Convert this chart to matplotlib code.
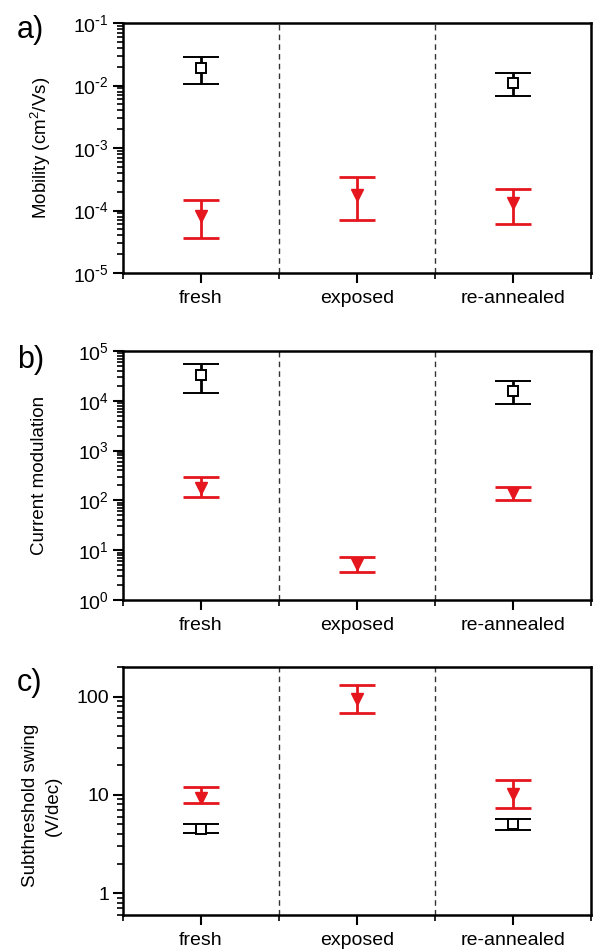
import numpy as np
from matplotlib import pyplot as plt
from matplotlib import ticker

plt.rcParams['font.family'] = ['Liberation Sans', 'DejaVu Sans']
plt.rcParams['mathtext.default'] = 'regular'

categories = ['fresh', 'exposed', 're-annealed']
nan = np.nan

# a) mobility (cm^2/Vs)
mob_black = [0.0193, nan, 0.0111]
mob_black_lo = [0.0105, nan, 0.0068]
mob_black_hi = [0.0289, nan, 0.0160]
mob_red = [8.2e-5, 1.77e-4, 1.3e-4]
mob_red_lo = [3.7e-5, 7.0e-5, 6.1e-5]
mob_red_hi = [1.47e-4, 3.4e-4, 2.18e-4]

# b) current modulation
cm_black = [33000, nan, 16000]
cm_black_lo = [14500, nan, 8750]
cm_black_hi = [54000, nan, 25000]
cm_red = [175, 5.2, 139]
cm_red_lo = [119, 3.7, 102]
cm_red_hi = [299, 7.2, 188]

# c) subthreshold swing (V/dec)
ss_black = [4.5, nan, 5.1]
ss_black_lo = [4.1, nan, 4.4]
ss_black_hi = [5.0, nan, 5.7]
ss_red = [9.4, 94, 10.2]
ss_red_lo = [8.3, 68, 7.4]
ss_red_hi = [12.1, 131, 14.0]

RED = '#e5161d'


def yerr(v, lo, hi):
  v, lo, hi = np.array(v), np.array(lo), np.array(hi)
  return [v - lo, hi - v]


def pow10(v, pos):
  e = int(round(np.log10(v)))
  return '10$^{%d}$' % e if e >= 0 else '10$^{\\text{-}%d}$' % -e


def draw(ax, black, blo, bhi, red, rlo, rhi):
  x = np.arange(1, len(categories) + 1)
  ax.errorbar(x, red, yerr=yerr(red, rlo, rhi), fmt='v', color=RED, ms=9,
              mec=RED, mfc=RED, elinewidth=2.0, capsize=13, capthick=2.0, zorder=3)
  ax.errorbar(x, black, yerr=yerr(black, blo, bhi), fmt='s', color='black', ms=6.5,
              mec='black', mfc='white', mew=1.4, elinewidth=2.0, capsize=13, capthick=2.0, zorder=4)
  for xv in (1.5, 2.5):
    ax.axvline(xv, color='#333333', lw=1.0, dashes=(4, 3), zorder=1)
  ax.set_yscale('log')
  ax.set_xlim(0.5, 3.5)
  ax.set_xticks(x)
  ax.set_xticklabels(categories)
  ax.set_xticks([0.5, 1.5, 2.5, 3.5], minor=True)
  for s in ax.spines.values():
    s.set_linewidth(1.8)
  ax.tick_params(axis='both', which='major', direction='out', length=7, width=1.5, labelsize=14)
  ax.tick_params(axis='both', which='minor', direction='out', length=4, width=1.2)
  ax.tick_params(axis='x', which='major', pad=5)
  ax.tick_params(axis='y', which='major', pad=3)


fig = plt.figure(figsize=(5.93, 9.52), dpi=100)
L, W = 0.2074, 0.789
ax1 = fig.add_axes([L, 0.7132, W, 0.2626])
ax2 = fig.add_axes([L, 0.3697, W, 0.2616])
ax3 = fig.add_axes([L, 0.0389, W, 0.2605])

draw(ax1, mob_black, mob_black_lo, mob_black_hi, mob_red, mob_red_lo, mob_red_hi)
ax1.set_ylim(1e-5, 1e-1)
ax1.set_ylabel('Mobility (cm$^2$/Vs)', fontsize=13.5)
ax1.yaxis.set_label_coords(-0.150, 0.5)

draw(ax2, cm_black, cm_black_lo, cm_black_hi, cm_red, cm_red_lo, cm_red_hi)
ax2.set_ylim(1, 1e5)
ax2.set_ylabel('Current modulation', fontsize=13.5)
ax2.yaxis.set_label_coords(-0.160, 0.5)

draw(ax3, ss_black, ss_black_lo, ss_black_hi, ss_red, ss_red_lo, ss_red_hi)
ax3.set_ylim(0.6, 200)
ax3.yaxis.set_major_locator(ticker.FixedLocator([1, 10, 100]))
ax3.yaxis.set_major_formatter(ticker.FixedFormatter(['1', '10', '100']))
ax3.set_ylabel('Subthreshold swing\n(V/dec)', fontsize=13.5, linespacing=1.45)
ax3.yaxis.set_label_coords(-0.130, 0.44)

for ax in (ax1, ax2):
  ax.yaxis.set_major_locator(ticker.LogLocator(base=10, numticks=10))
  ax.yaxis.set_major_formatter(ticker.FuncFormatter(pow10))
for ax in (ax1, ax2, ax3):
  ax.yaxis.set_minor_locator(ticker.LogLocator(base=10, subs=np.arange(2, 10), numticks=20))
  ax.yaxis.set_minor_formatter(ticker.NullFormatter())

fig.text(0.028, 1 - 30 / 952, 'a)', fontsize=22, va='center')
fig.text(0.028, 1 - 360 / 952, 'b)', fontsize=22, va='center')
fig.text(0.028, 1 - 683 / 952, 'c)', fontsize=22, va='center')

fig.savefig('out.png', dpi=100)
